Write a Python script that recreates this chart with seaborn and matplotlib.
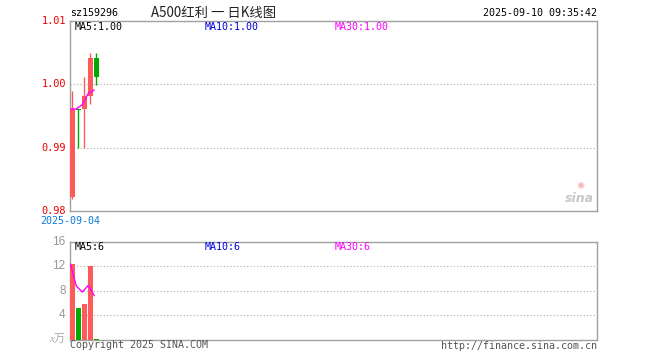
import numpy as np
import matplotlib
matplotlib.use("Agg")
import matplotlib.pyplot as plt
import seaborn as sns

# ---- data ----
days = [0, 1, 2, 3, 4]
opens = [0.9822, 0.9961, 0.9961, 0.9982, 1.0041]
closes = [0.9961, 0.9960, 0.9981, 1.0041, 1.0011]
highs = [0.9990, 0.9961, 1.0011, 1.0050, 1.0050]
lows = [0.9819, 0.9900, 0.9900, 0.9969, 0.9999]
volumes = [12.4, 5.2, 5.9, 12.1, 0.2]
ma5_price = [0.9961, 0.9961, 0.9968, 0.9986, 0.9991]
ma5_volume = [12.4, 8.8, 7.8, 8.9, 7.2]

price_ticks = [0.98, 0.99, 1.00, 1.01]
vol_ticks = [4, 8, 12, 16]

RED = "#ff5a5a"
GREEN = "#00aa00"
MAG = "#ff00ff"
BLUE = "#0000dd"
EDGE = "#a0a0a0"
MONO = "DejaVu Sans Mono"

sns.set_style("white")
plt.rcParams["font.family"] = [MONO, "Noto Sans CJK SC"]

fig = plt.figure(figsize=(6.6, 3.6), dpi=100)
W, H = 660.0, 360.0
ax = fig.add_axes([70 / W, 1 - 211 / H, 527 / W, 190 / H])
axv = fig.add_axes([70 / W, 1 - 340 / H, 527 / W, 98.3 / H])

xmin = -0.4
xmax = xmin + 527 / 6.0
body_w = 0.8

up = [c >= o for o, c in zip(opens, closes)]
colors = [RED if u else GREEN for u in up]

# =======================
# Price panel
# =======================
for yv in [0.99, 1.00]:
    ax.axhline(yv, color="#aaaaaa", lw=0.8, ls=(0, (1, 2)), zorder=0)

ax.vlines(days, lows, highs, colors=colors, lw=1, zorder=2)
bottoms = [min(o, c) for o, c in zip(opens, closes)]
heights = [max(abs(c - o), 0.00008) for o, c in zip(opens, closes)]
ax.bar(days, heights, bottom=bottoms, width=body_w, color=colors, lw=0, zorder=3)

sns.lineplot(x=np.array(days) - 0.35, y=ma5_price, ax=ax, color=MAG, lw=1, zorder=4)

ax.set_xlim(xmin, xmax)
ax.set_ylim(0.98, 1.01)
ax.set_xticks([])
ax.set_yticks([])
for s in ax.spines.values():
    s.set_color(EDGE)
    s.set_linewidth(1.0)

for t in price_ticks:
    yy = (t - 0.98) / 0.03
    fig.text(66 / W, ax.get_position().y0 + yy * ax.get_position().height,
             f"{t:.2f}", color="#ee0000", fontsize=7.4, ha="right", va="center",
             family=MONO)

ax.text(5 / 527, 1 - 6 / 190, "MA5:1.00", transform=ax.transAxes, fontsize=7.2,
        color="black", va="center", family=MONO)
ax.text(135 / 527, 1 - 6 / 190, "MA10:1.00", transform=ax.transAxes, fontsize=7.2,
        color=BLUE, va="center", family=MONO)
ax.text(265 / 527, 1 - 6 / 190, "MA30:1.00", transform=ax.transAxes, fontsize=7.2,
        color=MAG, va="center", family=MONO)

# sina watermark
ax.text(0.995, 0.065, "sina", transform=ax.transAxes, fontsize=9, color="#c8c8c8",
        ha="right", va="center", style="italic", weight="bold", family="DejaVu Sans")
ax.text(0.968, 0.13, "✺", transform=ax.transAxes, fontsize=7, color="#f4b8b8",
        ha="center", va="center", family="DejaVu Sans")

# =======================
# Volume panel
# =======================
for yv in [4, 8, 12]:
    axv.axhline(yv, color="#aaaaaa", lw=0.8, ls=(0, (1, 2)), zorder=0)

axv.bar(days, volumes, width=body_w, color=colors, lw=0, zorder=3)
sns.lineplot(x=np.array(days) - 0.35, y=ma5_volume, ax=axv, color=MAG, lw=1, zorder=4)

axv.set_xlim(xmin, xmax)
axv.set_ylim(0, 16)
axv.set_xticks([])
axv.set_yticks([])
for s in axv.spines.values():
    s.set_color(EDGE)
    s.set_linewidth(1.0)

pv = axv.get_position()
for t in vol_ticks:
    fig.text(65.5 / W, pv.y0 + t / 16 * pv.height, str(t), color="#999999",
             fontsize=8.5, ha="right", va="center", family="Liberation Sans")
fig.text(65.5 / W, pv.y0 + 0.004, "x万", color="#aaaaaa", fontsize=8, ha="right",
         va="center", style="italic", family=["Liberation Serif", "Noto Sans CJK SC"])

axv.text(5 / 527, 1 - 5 / 98.3, "MA5:6", transform=axv.transAxes, fontsize=7.2,
         color="black", va="center", family=MONO)
axv.text(135 / 527, 1 - 5 / 98.3, "MA10:6", transform=axv.transAxes, fontsize=7.2,
         color=BLUE, va="center", family=MONO)
axv.text(265 / 527, 1 - 5 / 98.3, "MA30:6", transform=axv.transAxes, fontsize=7.2,
         color=MAG, va="center", family=MONO)

# =======================
# Header / footer text
# =======================
fig.text(70 / W, 1 - 13 / H, "sz159296", fontsize=7.2, color="black",
         va="center", family=MONO)
fig.text(151 / W, 1 - 12.5 / H, "A500红利 一 日K线图", fontsize=9.6, color="#222222",
         va="center", family=["Noto Sans CJK SC", "DejaVu Sans"])
fig.text(597 / W, 1 - 12.5 / H, "2025-09-10 09:35:42", fontsize=7.2, color="black",
         ha="right", va="center", family=MONO)
fig.text(40 / W, 1 - 221.5 / H, "2025-09-04", fontsize=7.2, color="#0a7ad8",
         va="center", family=MONO)
fig.text(70 / W, 1 - 345.5 / H, "Copyright 2025 SINA.COM", fontsize=7.2,
         color="#555555", va="center", family=MONO)
fig.text(597 / W, 1 - 346 / H, "http://finance.sina.com.cn", fontsize=7.2,
         color="#555555", ha="right", va="center", family=MONO)

fig.savefig("out.png", dpi=100)
